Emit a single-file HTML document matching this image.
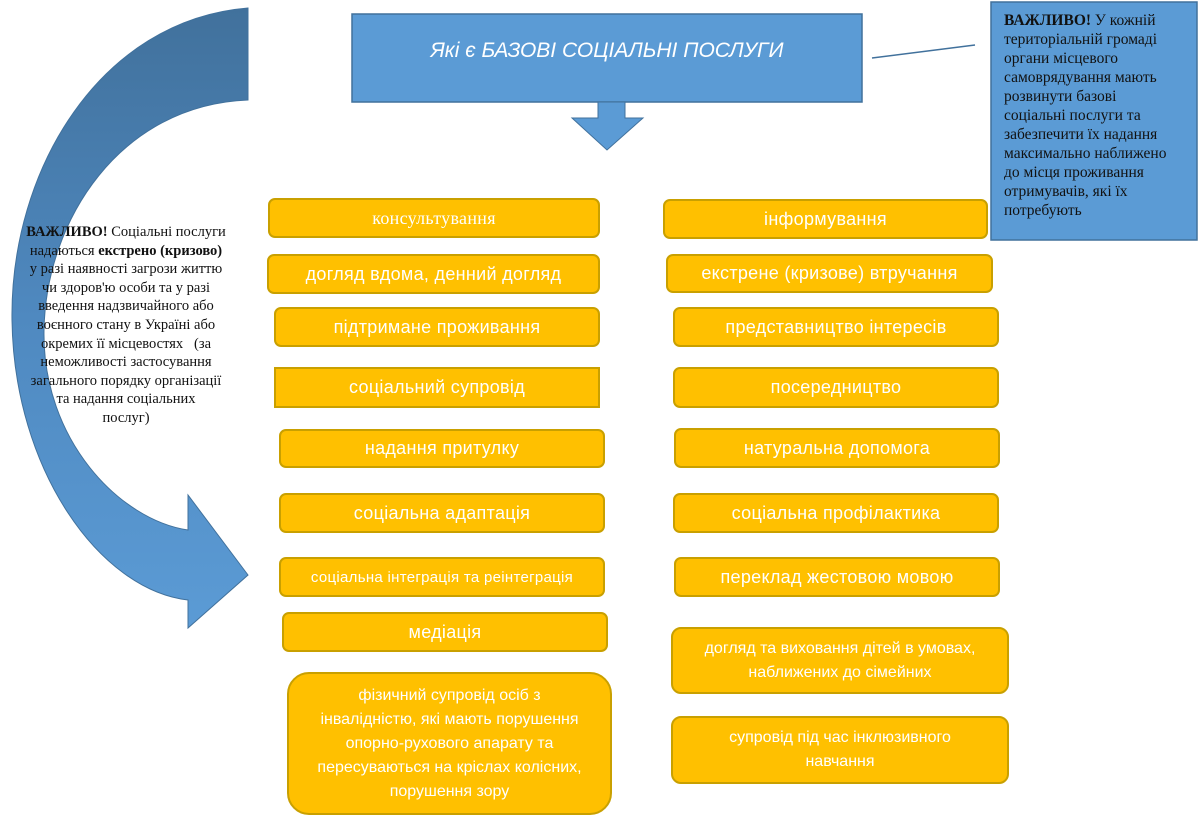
<!DOCTYPE html>
<html><head><meta charset="utf-8"><style>
body{margin:0;width:1200px;height:821px;background:#fff;position:relative;overflow:hidden;font-family:"Liberation Sans","DejaVu Sans",sans-serif}
.b{position:absolute;box-sizing:border-box;background:#ffc000;border:2px solid #c9a000;border-radius:7px;color:#fff;display:flex;align-items:center;justify-content:center;text-align:center;font-size:18px;letter-spacing:.3px}
.s{font-size:16px;line-height:24px;font-family:"Liberation Sans Narrow","Liberation Sans",sans-serif;letter-spacing:0}
.t{position:absolute;font-family:"Liberation Serif",serif;color:#111;white-space:nowrap}
</style></head><body>
<svg width="1200" height="821" style="position:absolute;left:0;top:0">
<defs><linearGradient id="g" x1="0" y1="0" x2="0" y2="1"><stop offset="0" stop-color="#41719c"/><stop offset="0.5" stop-color="#4f89c0"/><stop offset="1" stop-color="#5b9bd5"/></linearGradient></defs>
<path d="M248,8 C100,20 10,170 12,320 C14,470 100,590 188,600 L188,628 L248,575 L188,495 L188,530 C120,520 42,440 44,330 C46,220 120,105 248,100 Z" fill="url(#g)" stroke="#41719c" stroke-width="1"/>
<rect x="352" y="14" width="510" height="88" fill="#5b9bd5" stroke="#41719c" stroke-width="1.5"/>
<path d="M598,102 L625,102 L625,118 L643,118 L607,150 L572,118 L598,118 Z" fill="#5b9bd5" stroke="#41719c" stroke-width="1"/>
<line x1="872" y1="58" x2="975" y2="45" stroke="#41719c" stroke-width="1.5"/>
<rect x="991" y="2" width="206" height="238" fill="#5b9bd5" stroke="#41719c" stroke-width="1.5"/>
</svg>
<div style="position:absolute;left:352px;top:39px;width:510px;text-align:center;color:#fff;font-style:italic;font-size:21px">Які є БАЗОВІ СОЦІАЛЬНІ ПОСЛУГИ</div>
<div class="t" style="left:1004px;top:11px;font-size:15.5px;line-height:19px"><b>ВАЖЛИВО!</b> У кожній<br>територіальній громаді<br>органи місцевого<br>самоврядування мають<br>розвинути базові<br>соціальні послуги та<br>забезпечити їх надання<br>максимально наближено<br>до місця проживання<br>отримувачів, які їх<br>потребують</div>
<div class="t" style="left:10px;top:223px;width:232px;font-size:14.5px;line-height:18.6px;text-align:center"><b>ВАЖЛИВО!</b> Соціальні послуги<br>надаються <b>екстрено (кризово)</b><br>у разі наявності загрози життю<br>чи здоров'ю особи та у разі<br>введення надзвичайного або<br>воєнного стану в Україні або<br>окремих її місцевостях &nbsp;&nbsp;(за<br>неможливості застосування<br>загального порядку організації<br>та надання соціальних<br>послуг)</div>

<div class="b" style="left:268px;top:198px;width:332px;height:40px;font-family:'Liberation Serif',serif">консультування</div>
<div class="b" style="left:267px;top:254px;width:333px;height:40px">догляд вдома, денний догляд</div>
<div class="b" style="left:274px;top:307px;width:326px;height:40px">підтримане проживання</div>
<div class="b" style="left:274px;top:367px;width:326px;height:41px;border-radius:0">соціальний супровід</div>
<div class="b" style="left:279px;top:429px;width:326px;height:39px">надання притулку</div>
<div class="b" style="left:279px;top:493px;width:326px;height:40px">соціальна адаптація</div>
<div class="b" style="left:279px;top:557px;width:326px;height:40px;font-size:15px">соціальна інтеграція та реінтеграція</div>
<div class="b" style="left:282px;top:612px;width:326px;height:40px">медіація</div>
<div class="b s" style="left:287px;top:672px;width:325px;height:143px;border-radius:22px">фізичний супровід осіб з<br>інвалідністю, які мають порушення<br>опорно-рухового апарату та<br>пересуваються на кріслах колісних,<br>порушення зору</div>

<div class="b" style="left:663px;top:199px;width:325px;height:40px">інформування</div>
<div class="b" style="left:666px;top:254px;width:327px;height:39px">екстрене (кризове) втручання</div>
<div class="b" style="left:673px;top:307px;width:326px;height:40px">представництво інтересів</div>
<div class="b" style="left:673px;top:367px;width:326px;height:41px">посередництво</div>
<div class="b" style="left:674px;top:428px;width:326px;height:40px">натуральна допомога</div>
<div class="b" style="left:673px;top:493px;width:326px;height:40px">соціальна профілактика</div>
<div class="b" style="left:674px;top:557px;width:326px;height:40px">переклад жестовою мовою</div>
<div class="b s" style="left:671px;top:627px;width:338px;height:67px;border-radius:10px">догляд та виховання дітей в умовах,<br>наближених до сімейних</div>
<div class="b s" style="left:671px;top:716px;width:338px;height:68px;border-radius:10px">супровід під час інклюзивного<br>навчання</div>
</body></html>
